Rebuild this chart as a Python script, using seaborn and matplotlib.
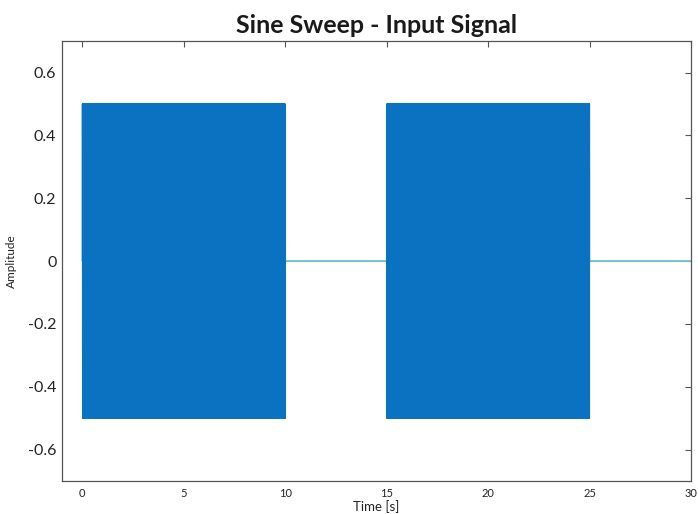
import numpy as np
import pandas as pd
import matplotlib
matplotlib.use("Agg")
import matplotlib.pyplot as plt
import seaborn as sns

# Sweep parameters
sweep_starts = [0.0, 15.0]      # s
sweep_ends = [10.0, 25.0]       # s
sweep_amplitude = 0.5
sweep_f0 = 60.0                 # Hz
sweep_f1 = 400.0                # Hz
total_duration = 30.0           # s
sample_rate = 20000.0           # Hz

x_ticks = [0, 5, 10, 15, 20, 25, 30]
y_ticks = [-0.6, -0.4, -0.2, 0, 0.2, 0.4, 0.6]
y_tick_labels = ["-0.6", "-0.4", "-0.2", "0", "0.2", "0.4", "0.6"]

# Build the input signal: linear chirps inside each sweep window, silence elsewhere
t = np.arange(0.0, total_duration + 1.0 / sample_rate, 1.0 / sample_rate)
signal = np.zeros_like(t)
for t0, t1 in zip(sweep_starts, sweep_ends):
    mask = (t >= t0) & (t <= t1)
    tau = t[mask] - t0
    k = (sweep_f1 - sweep_f0) / (t1 - t0)
    signal[mask] = sweep_amplitude * np.sin(2 * np.pi * (sweep_f0 * tau + 0.5 * k * tau ** 2))

df = pd.DataFrame({"Time": t, "Amplitude": signal})
active = np.zeros(len(t), dtype=bool)
for t0, t1 in zip(sweep_starts, sweep_ends):
    active |= (df["Time"] >= t0).to_numpy() & (df["Time"] <= t1).to_numpy()

sns.set_style("white")
plt.rcParams["font.family"] = ["Lato", "DejaVu Sans"]

fig = plt.figure(figsize=(6.98, 5.14), dpi=100)
ax = fig.add_axes([0.0888, 0.064, 0.9012, 0.856])

# silent stretches as a thin line
sil = df.copy()
sil.loc[active, "Amplitude"] = np.nan
ax.plot(sil["Time"], sil["Amplitude"], color="#66bfcc", linewidth=1.3, zorder=2)

# sweep segments
for t0, t1 in zip(sweep_starts, sweep_ends):
    seg = df[(df["Time"] >= t0) & (df["Time"] <= t1)]
    sns.lineplot(data=seg, x="Time", y="Amplitude", estimator=None, sort=False,
                 color="#0a72c0", linewidth=0.8, ax=ax, zorder=3)

ax.set_xlim(-1, 30)
ax.set_ylim(-0.7, 0.7)
ax.set_xticks(x_ticks)
ax.set_xticklabels([str(v) for v in x_ticks], fontsize=8, color="#222222")
ax.set_yticks(y_ticks)
ax.set_yticklabels(y_tick_labels, fontsize=11.5, color="#222222")
ax.tick_params(axis="both", direction="in", length=4, width=0.8, color="#555555",
               top=True, right=True, pad=4)
ax.tick_params(axis="x", pad=5)

for s in ax.spines.values():
    s.set_color("#555555")
    s.set_linewidth(0.9)

ax.set_xlabel("Time [s]", fontsize=9.5, color="#222222", labelpad=1)
ax.set_ylabel("Amplitude", fontsize=8.5, color="#222222", labelpad=8)
ax.set_title("Sine Sweep - Input Signal", fontsize=18, fontweight="bold",
             color="#1a1a1a", pad=6)

fig.savefig("out.png", dpi=100)
